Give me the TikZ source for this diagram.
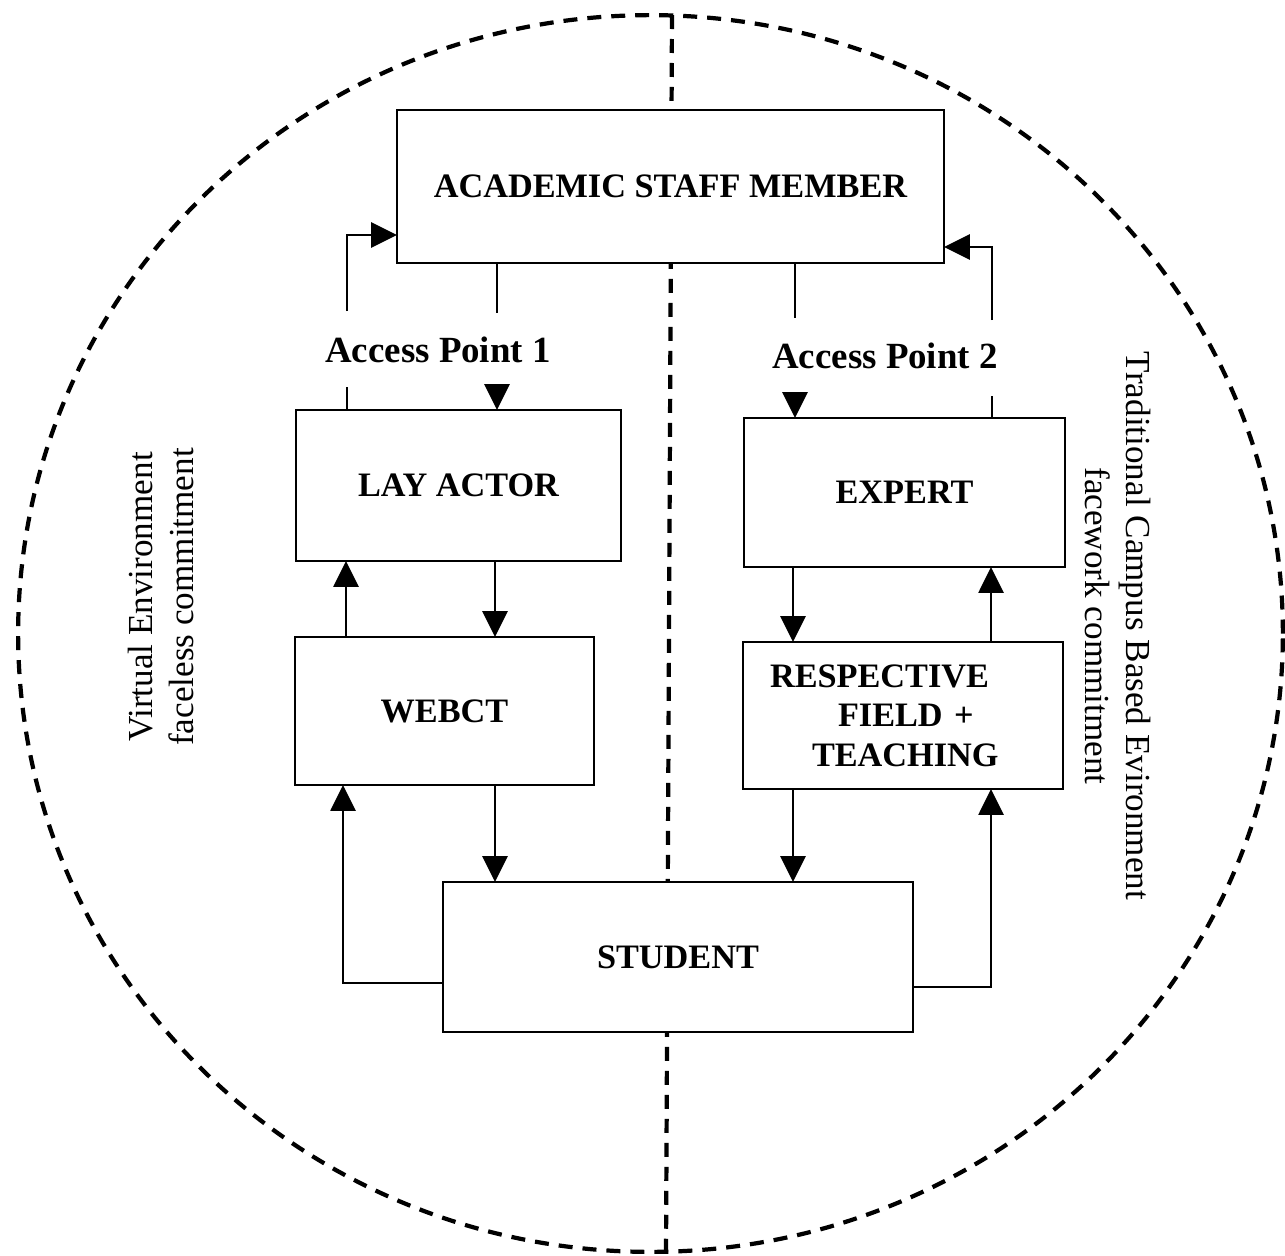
\documentclass[tikz,border=0pt]{standalone}
\usepackage{fontspec}
\setmainfont{Liberation Serif}
\usetikzlibrary{arrows.meta}
\begin{document}
\begin{tikzpicture}[x=0.02cm, y=-0.02cm,
  box/.style={draw, line width=1.6pt, fill=white, outer sep=0pt, inner sep=0pt,
    font=\bfseries\fontsize{19.5}{23}\selectfont},
  link/.style={line width=1.6pt},
  arr/.style={line width=1.6pt, -{Triangle[length=0.52cm, width=0.5cm]}},
  divide/.style={line width=2.4pt, dash pattern=on 0.28cm off 0.2cm},
  aplabel/.style={font=\bfseries\fontsize{21}{25}\selectfont},
  side/.style={align=center, font=\fontsize{20}{23.5}\selectfont}]
\useasboundingbox (0,0) rectangle (1285,1255);

% boundary of the two environments
\draw[divide] (650.5,633.5) ellipse [x radius=12.65cm, y radius=12.37cm];
\coordinate (ctop) at (672,15);
\coordinate (cbot) at (666,1252);
\draw[divide] (ctop) -- (cbot);

% boxes
\node[box, minimum width=10.94cm, minimum height=3.06cm] (acad) at (670.5,186.5) {ACADEMIC STAFF MEMBER};
\node[box, minimum width=6.5cm, minimum height=3.02cm] (lay) at (458.5,485.5) {LAY ACTOR};
\node[box, minimum width=5.98cm, minimum height=2.96cm] (webct) at (444.5,711) {WEBCT};
\node[box, minimum width=9.4cm, minimum height=3cm] (student) at (678,957) {STUDENT};
\node[box, minimum width=6.42cm, minimum height=2.98cm] (expert) at (904.5,492.5) {EXPERT};
\node[box, text width=5.32cm, inner xsep=0.54cm, minimum height=2.94cm, align=left,
  font=\bfseries\fontsize{19.5}{22.5}\selectfont] (resp) at (903,715.5)
  {RESPECTIVE\\\hspace*{1.36cm}FIELD +\\\hspace*{0.84cm}TEACHING};

% access point labels
\node[aplabel] (ap1) at (438,350) {Access Point 1};
\node[aplabel] (ap2) at (885,356) {Access Point 2};

% side labels
\node[side, rotate=90] (virt) at (161,597) {Virtual Environment\\faceless commitment};
\node[side, rotate=-90] (trad) at (1118,626) {Traditional Campus Based Evironment\\facework commitment};

% access point 1
\coordinate (a1lo) at (347,387);
\coordinate (a1hi) at (347,311);
\coordinate (a1y) at (0,235);
\draw[link] (lay.north -| a1lo) -- (a1lo);
\draw[arr] (a1hi) |- (acad.west |- a1y);
\coordinate (a2hi) at (497,313);
\coordinate (a2lo) at (497,387);
\draw[link] (acad.south -| a2hi) -- (a2hi);
\draw[arr] (a2lo) -- (lay.north -| a2lo);

% access point 2
\coordinate (b1hi) at (795,318);
\coordinate (b1lo) at (795,393);
\draw[link] (acad.south -| b1hi) -- (b1hi);
\draw[arr] (b1lo) -- (expert.north -| b1lo);
\coordinate (b2lo) at (992,396);
\coordinate (b2hi) at (992,320);
\coordinate (b2y) at (0,247);
\draw[link] (expert.north -| b2lo) -- (b2lo);
\draw[arr] (b2hi) |- (acad.east |- b2y);

% virtual side
\coordinate (v1) at (346,0);
\coordinate (v2) at (495,0);
\coordinate (v3) at (343,983);
\draw[arr] (webct.north -| v1) -- (lay.south -| v1);
\draw[arr] (lay.south -| v2) -- (webct.north -| v2);
\draw[arr] (webct.south -| v2) -- (student.north -| v2);
\draw[arr] (student.west |- v3) -| (webct.south -| v3);

% campus side
\coordinate (t1) at (793,0);
\coordinate (t2) at (991,987);
\draw[arr] (expert.south -| t1) -- (resp.north -| t1);
\draw[arr] (resp.north -| t2) -- (expert.south -| t2);
\draw[arr] (resp.south -| t1) -- (student.north -| t1);
\draw[arr] (student.east |- t2) -| (resp.south -| t2);
\end{tikzpicture}
\end{document}
